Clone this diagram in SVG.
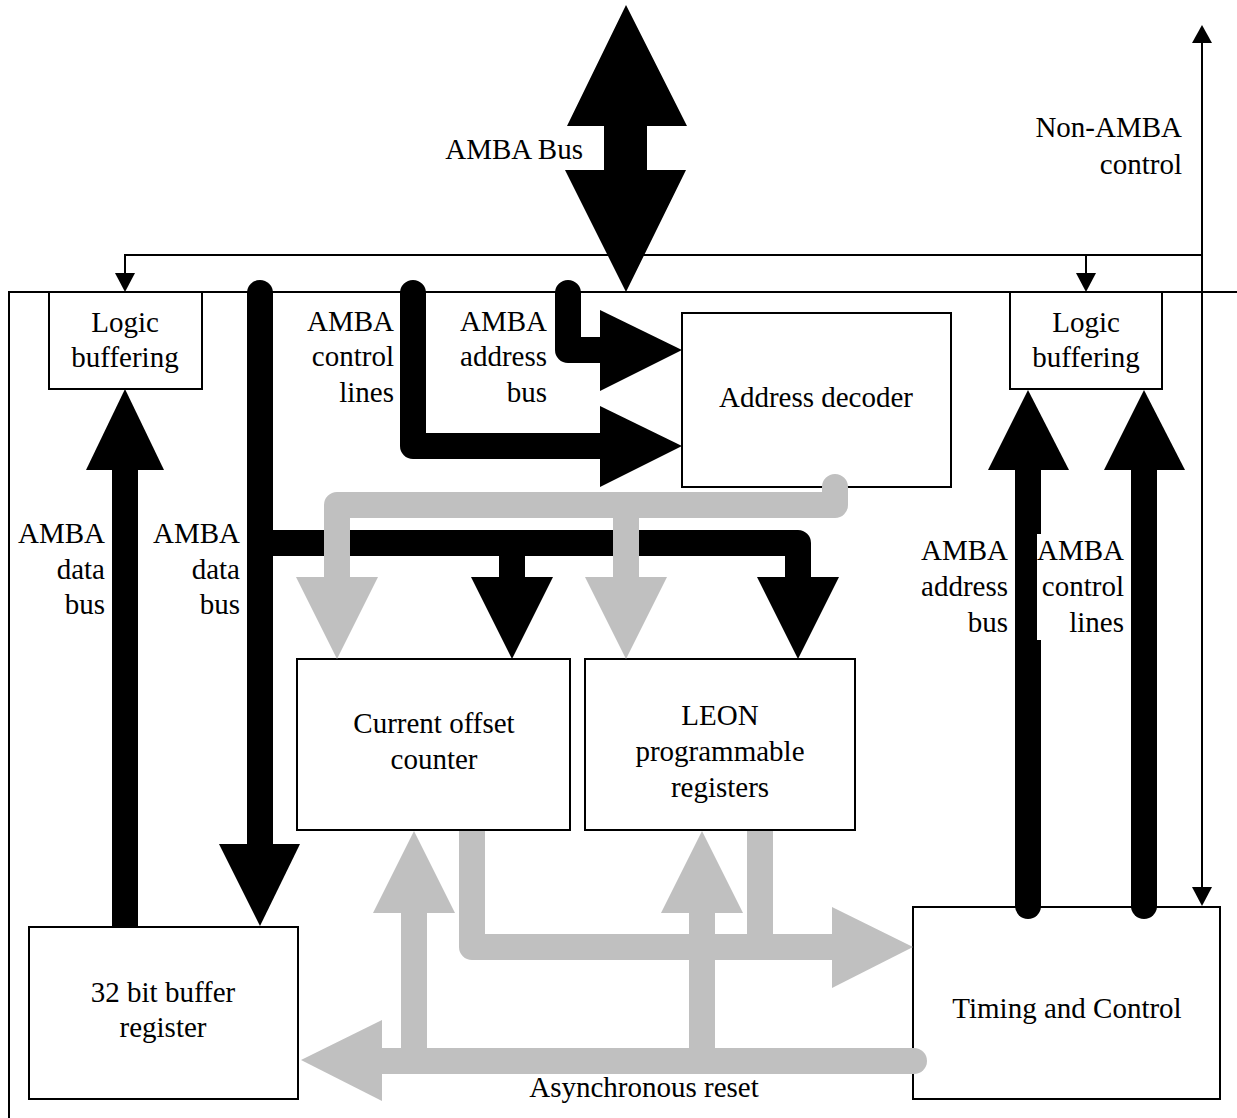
<svg xmlns="http://www.w3.org/2000/svg" width="1237" height="1118" viewBox="0 0 1237 1118">
<style>
.box{fill:#fff;stroke:#000;stroke-width:2}
.thin{fill:none;stroke:#000;stroke-width:2}
.blk{fill:none;stroke:#000;stroke-width:26;stroke-linejoin:round}
.gry{fill:none;stroke:#c0c0c0;stroke-width:26;stroke-linejoin:round}
.rc{stroke-linecap:round}
.hb{fill:#000}
.hg{fill:#c0c0c0}
text{font-family:"Liberation Serif","Times New Roman",serif;font-size:29px;fill:#000}
.m{text-anchor:middle}
.e{text-anchor:end}
</style>
<rect width="1237" height="1118" fill="#fff"/>

<g id="node-logic-buffering-left">
<rect class="box" x="49" y="292" width="153" height="97"/>
<text class="m" x="125" y="332">Logic</text>
<text class="m" x="125" y="367">buffering</text>
</g>
<g id="node-logic-buffering-right">
<rect class="box" x="1010" y="292" width="152" height="97"/>
<text class="m" x="1086" y="332">Logic</text>
<text class="m" x="1086" y="367">buffering</text>
</g>
<g id="node-address-decoder">
<rect class="box" x="682" y="313" width="269" height="174"/>
<text class="m" x="816" y="407">Address decoder</text>
</g>
<g id="node-current-offset-counter">
<rect class="box" x="297" y="659" width="273" height="171"/>
<text class="m" x="434" y="733">Current offset</text>
<text class="m" x="434" y="769">counter</text>
</g>
<g id="node-leon-registers">
<rect class="box" x="585" y="659" width="270" height="171"/>
<text class="m" x="720" y="725">LEON</text>
<text class="m" x="720" y="761">programmable</text>
<text class="m" x="720" y="797">registers</text>
</g>
<g id="node-buffer-register">
<rect class="box" x="29" y="927" width="269" height="172"/>
<text class="m" x="163" y="1002">32 bit buffer</text>
<text class="m" x="163" y="1037">register</text>
</g>
<g id="node-timing-control">
<rect class="box" x="913" y="907" width="307" height="192"/>
<text class="m" x="1067" y="1018">Timing and Control</text>
</g>

<g id="connectors">
<!-- AMBA bus double arrow -->
<polygon class="hb" points="626,5 687,126 647,126 647,170 686,170 626,292 565,170 604,170 604,126 567,126"/>
<!-- thin lines -->
<path class="thin" d="M9,1118 L9,292 L1237,292"/>
<path class="thin" d="M125,274 L125,255 L1202,255 M1086,255 L1086,274"/>
<polygon class="hb" points="115,273 135,273 125,292"/>
<polygon class="hb" points="1076,273 1096,273 1086,292"/>
<path class="thin" d="M1202,42 L1202,888"/>
<polygon class="hb" points="1192,43 1212,43 1202,25"/>
<polygon class="hb" points="1192,887 1212,887 1202,906"/>
<!-- black buses -->
<path class="blk" d="M125,927 L125,465"/>
<polygon class="hb" points="86,470 164,470 125,389"/>
<path class="blk rc" d="M260,293 L260,850"/>
<polygon class="hb" points="219,844 300,844 260,926"/>
<path class="blk" d="M260,543 L798,543 L798,585"/>
<polygon class="hb" points="757,577 839,577 798,659"/>
<path class="blk" d="M512,543 L512,585"/>
<polygon class="hb" points="471,577 553,577 512,659"/>
<path class="blk rc" d="M413,293 L413,446 L610,446"/>
<polygon class="hb" points="600,406 600,487 682,446"/>
<path class="blk rc" d="M568,293 L568,350 L610,350"/>
<polygon class="hb" points="600,310 600,391 682,350"/>
<path class="blk rc" d="M1028,906 L1028,465"/>
<polygon class="hb" points="988,470 1069,470 1028,390"/>
<path class="blk rc" d="M1144,906 L1144,465"/>
<polygon class="hb" points="1104,470 1185,470 1144,390"/>
<!-- grey control paths -->
<path class="gry rc" d="M835,487 L835,505 L337,505 L337,585"/>
<polygon class="hg" points="296,577 378,577 337,659"/>
<path class="gry" d="M626,505 L626,585"/>
<polygon class="hg" points="585,577 667,577 626,659"/>
<path class="gry" d="M472,831 L472,947 L840,947"/>
<path class="gry" d="M760,831 L760,947"/>
<polygon class="hg" points="832,907 832,988 913,947"/>
<path class="gry" d="M414,1061 L414,905"/>
<polygon class="hg" points="373,913 455,913 414,831"/>
<path class="gry" d="M702,1061 L702,905"/>
<polygon class="hg" points="661,913 743,913 702,831"/>
<path class="gry rc" d="M914,1061 L375,1061"/>
<polygon class="hg" points="382,1020 382,1101 301,1060"/>
</g>

<g id="labels">
<text class="e" x="583" y="159">AMBA Bus</text>
<text class="e" x="1182" y="137">Non-AMBA</text>
<text class="e" x="1182" y="174">control</text>
<text class="e" x="394" y="331">AMBA</text>
<text class="e" x="394" y="366">control</text>
<text class="e" x="394" y="402">lines</text>
<text class="e" x="547" y="331">AMBA</text>
<text class="e" x="547" y="366">address</text>
<text class="e" x="547" y="402">bus</text>
<text class="e" x="105" y="543">AMBA</text>
<text class="e" x="105" y="579">data</text>
<text class="e" x="105" y="614">bus</text>
<text class="e" x="240" y="543">AMBA</text>
<text class="e" x="240" y="579">data</text>
<text class="e" x="240" y="614">bus</text>
<text class="e" x="1008" y="560">AMBA</text>
<text class="e" x="1008" y="596">address</text>
<text class="e" x="1008" y="632">bus</text>
<rect x="1037" y="534" width="90" height="106" fill="#fff"/>
<text class="e" x="1124" y="560">AMBA</text>
<text class="e" x="1124" y="596">control</text>
<text class="e" x="1124" y="632">lines</text>
<text class="m" x="644" y="1097">Asynchronous reset</text>
</g>
</svg>
